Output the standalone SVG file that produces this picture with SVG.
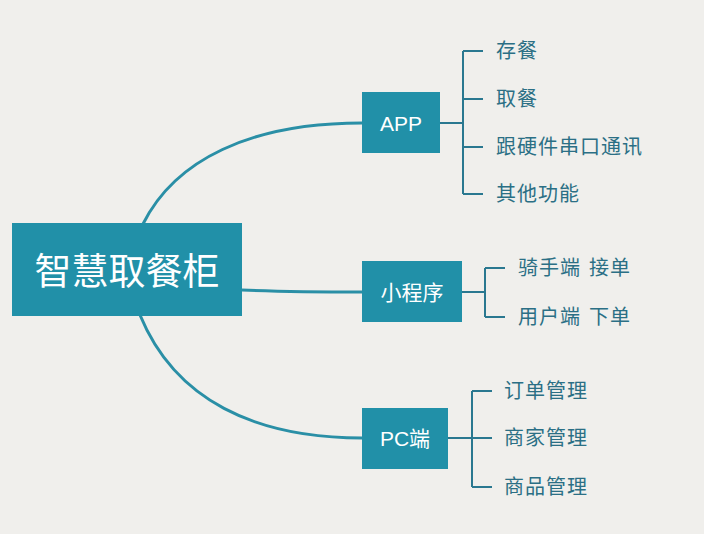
<svg xmlns="http://www.w3.org/2000/svg" width="704" height="534" viewBox="0 0 704 534">
<style>
.box{fill:#2190a8}
.ttl{fill:#ffffff;font-family:"Liberation Sans","Noto Sans CJK SC",sans-serif;text-anchor:middle;dominant-baseline:central}
.leaf{fill:#2b6f85;font-family:"Noto Sans CJK SC",sans-serif;font-size:20px;letter-spacing:1px;dominant-baseline:central}
.curve{fill:none;stroke:#2a8fa6;stroke-width:3}
.br{fill:none;stroke:#2a7890;stroke-width:2}
</style>
<rect width="704" height="534" fill="#f0efec"/>
<g id="connectors">
<path class="curve" d="M143,224 C175,160 250,123 362,123"/>
<path class="curve" d="M242,290 C290,292 320,292 362,292"/>
<path class="curve" d="M140,315 C175,400 255,438 362,438"/>
<path class="br" d="M440,123 H463 M463,51 V194 M463,51 H483 M463,99 H483 M463,147 H483 M463,194 H483"/>
<path class="br" d="M462,292 H485 M485,268 V317 M485,268 H505 M485,317 H505"/>
<path class="br" d="M448,438 H472 M472,391 V487 M472,391 H492 M472,438 H492 M472,487 H492"/>
</g>
<g id="root">
<rect class="box" x="12" y="223" width="230" height="93"/>
<text class="ttl" x="127" y="269" style="font-family:'Noto Sans CJK SC',sans-serif" font-size="37">智慧取餐柜</text>
</g>
<g id="app">
<rect class="box" x="362" y="92" width="78" height="61"/>
<text class="ttl" x="401" y="123" font-size="21">APP</text>
</g>
<g id="mini">
<rect class="box" x="362" y="261" width="100" height="61"/>
<text class="ttl" x="412" y="291" style="font-family:'Noto Sans CJK SC',sans-serif" font-size="21">小程序</text>
</g>
<g id="pc">
<rect class="box" x="362" y="408" width="86" height="61"/>
<text class="ttl" x="405" y="438" style="font-family:'Liberation Sans','Noto Sans CJK SC',sans-serif" font-size="21">PC端</text>
</g>
<g id="app-leaves">
<text class="leaf" x="496" y="49">存餐</text>
<text class="leaf" x="496" y="97">取餐</text>
<text class="leaf" x="496" y="145">跟硬件串口通讯</text>
<text class="leaf" x="496" y="192">其他功能</text>
</g>
<g id="mini-leaves">
<text class="leaf" x="518" y="266">骑手端<tspan x="589">接单</tspan></text>
<text class="leaf" x="518" y="315">用户端<tspan x="589">下单</tspan></text>
</g>
<g id="pc-leaves">
<text class="leaf" x="504" y="389">订单管理</text>
<text class="leaf" x="504" y="436">商家管理</text>
<text class="leaf" x="504" y="485">商品管理</text>
</g>
</svg>
